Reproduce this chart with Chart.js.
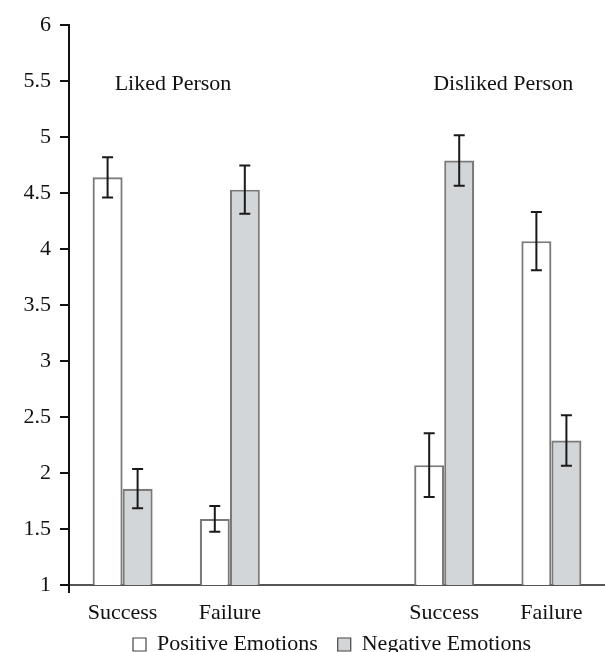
<!DOCTYPE html>
<html><head><meta charset="utf-8">
<script src="https://cdn.jsdelivr.net/npm/chart.js@4.4.1/dist/chart.umd.min.js"></script>
<style>html,body{margin:0;padding:0;background:#fff}#wrap{width:605px;height:652px;overflow:hidden}</style>
</head><body><div id="wrap"><canvas id="c" width="605" height="652"></canvas></div>
<script>
const categories = ['Success', 'Failure', '', 'Success', 'Failure'];
const positiveMeans = [4.64, 1.59, null, 2.07, 4.07];
const positiveErrors = [0.18, 0.115, null, 0.285, 0.26];
const negativeMeans = [1.86, 4.53, null, 4.79, 2.29];
const negativeErrors = [0.175, 0.215, null, 0.225, 0.225];
const seriesNames = ['Positive Emotions', 'Negative Emotions'];
const groupLabels = ['Liked Person', 'Disliked Person'];
const yMin = 1, yMax = 6, yStep = 0.5;

const FONT = "'Liberation Serif', 'Times New Roman', serif";
Chart.defaults.font.family = FONT;
Chart.defaults.font.size = 22;
Chart.defaults.color = '#111';

const errorSets = [positiveErrors, negativeErrors];
const PLOT_BOTTOM = 585;

const decorPlugin = {
  id: 'decor',
  afterLayout(chart) {
    const lg = chart.legend;
    const w = lg.right - lg.left, h = lg.bottom - lg.top;
    lg.left = 113; lg.right = lg.left + w;
    lg.top = 613.5; lg.bottom = lg.top + h;
    const xs = chart.scales.x;
    xs.bottom = xs.top + 50;
  },
  afterDraw(chart) {
    const {ctx, chartArea, scales: {y}} = chart;
    ctx.save();
    ctx.strokeStyle = '#111';
    ctx.lineWidth = 2;
    ctx.beginPath();
    ctx.moveTo(chartArea.left, y.getPixelForValue(yMin));
    ctx.lineTo(chartArea.left, y.getPixelForValue(yMin) + 8);
    ctx.stroke();
    ctx.restore();
  },
  afterDatasetsDraw(chart) {
    const {ctx, scales: {x, y}} = chart;
    ctx.save();
    ctx.strokeStyle = '#1a1a1a';
    ctx.lineWidth = 2;
    chart.data.datasets.forEach((ds, di) => {
      const meta = chart.getDatasetMeta(di);
      meta.data.forEach((bar, i) => {
        const m = ds.data[i], e = errorSets[di][i];
        if (m == null || e == null) return;
        const yt = y.getPixelForValue(m + e), yb = y.getPixelForValue(m - e);
        const cx = bar.x, cap = 5.5;
        ctx.beginPath();
        ctx.moveTo(cx, yt); ctx.lineTo(cx, yb);
        ctx.moveTo(cx - cap, yt); ctx.lineTo(cx + cap, yt);
        ctx.moveTo(cx - cap, yb); ctx.lineTo(cx + cap, yb);
        ctx.stroke();
      });
    });
    ctx.fillStyle = '#111';
    ctx.font = '22px ' + FONT;
    ctx.textAlign = 'center';
    ctx.textBaseline = 'middle';
    const ly = y.getPixelForValue(5.47);
    ctx.fillText(groupLabels[0], x.getPixelForValue(0.47), ly);
    ctx.fillText(groupLabels[1], x.getPixelForValue(3.55), ly);
    ctx.restore();
  }
};

new Chart(document.getElementById('c'), {
  type: 'bar',
  data: {
    labels: categories,
    datasets: [
      {label: seriesNames[0], data: positiveMeans, backgroundColor: '#ffffff', borderColor: '#7a7a7a', borderWidth: 2.2, borderSkipped: false},
      {label: seriesNames[1], data: negativeMeans, backgroundColor: '#d3d6d9', borderColor: '#7a7a7a', borderWidth: 2.2, borderSkipped: false}
    ]
  },
  options: {
    responsive: false,
    animation: false,
    devicePixelRatio: 1,
    layout: {padding: {top: 25, left: 0, right: 0, bottom: 0}},
    datasets: {bar: {categoryPercentage: 0.56, barPercentage: 1}},
    plugins: {
      tooltip: {enabled: false},
      legend: {
        position: 'bottom',
        align: 'start',
        labels: {
          boxWidth: 13, boxHeight: 13, padding: 20,
          font: {size: 22, family: FONT}, color: '#111',
          generateLabels(chart) {
            const items = Chart.defaults.plugins.legend.labels.generateLabels(chart);
            items.forEach(it => { it.lineWidth = 1.2; it.strokeStyle = '#444'; });
            return items;
          }
        }
      }
    },
    scales: {
      x: {
        grid: {display: false, drawTicks: false},
        border: {display: true, color: '#555', width: 2},
        ticks: {padding: 15, font: {size: 22, family: FONT}, color: '#111', autoSkip: false, maxRotation: 0},
        afterFit(s) { s.height = Math.max(0, 652 - PLOT_BOTTOM - (s.chart.legend ? s.chart.legend.height : 0)); }
      },
      y: {
        min: yMin, max: yMax,
        grid: {display: true, drawOnChartArea: false, drawTicks: true, tickLength: 9, color: '#111', lineWidth: 2},
        border: {display: true, color: '#111', width: 2},
        ticks: {stepSize: yStep, padding: 9, font: {size: 22, family: FONT}, color: '#111', callback: v => String(v)},
        afterFit(s) { s.width = 69; }
      }
    }
  },
  plugins: [decorPlugin]
});
</script>
</body></html>
